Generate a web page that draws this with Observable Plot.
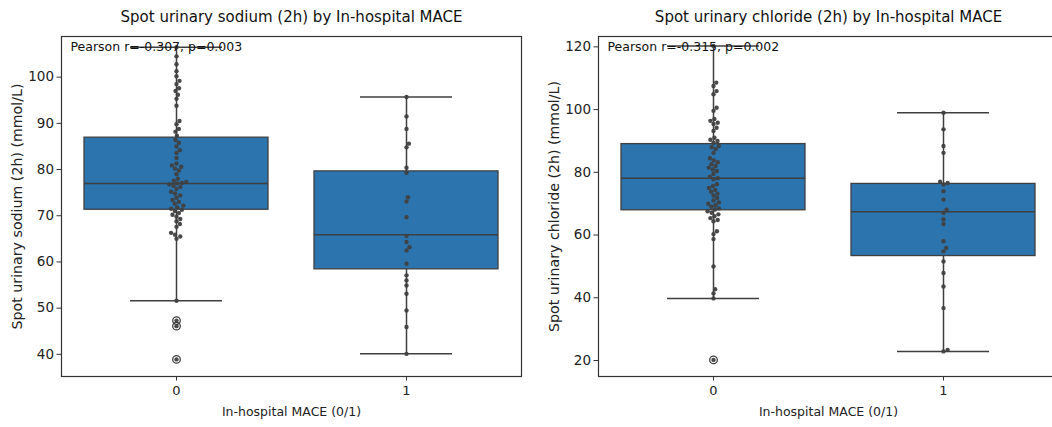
<!DOCTYPE html>
<html>
<head>
<meta charset="utf-8">
<script src="https://cdn.jsdelivr.net/npm/d3@7"></script>
<script src="https://cdn.jsdelivr.net/npm/@observablehq/plot@0.6"></script>
<style>
  html, body { margin: 0; padding: 0; background: #fff; overflow: hidden; }
  #wrap { position: relative; width: 1052px; height: 427px; overflow: hidden; }
  .panel { position: absolute; top: 0; width: 530px; }
  .panel svg { max-width: none !important; font-family: "DejaVu Sans", sans-serif; }
</style>
</head>
<body>
<div id="wrap">
  <div class="panel" id="left" style="left:0px"></div>
  <div class="panel" id="right" style="left:530px"></div>
</div>
<script>
// ---- categories ----
const categories = [0, 1];
const xTickLabels = ["0", "1"];

// ---- sodium (left panel) ----
const sodiumMace0 = [106.5, 104.5, 102.8, 101.3, 100.2, 99.2, 98.5, 97.6, 97.0, 96.2, 95.3, 93.8, 90.5, 89.8, 88.8, 88.2, 87.3,
  86.4, 85.8, 85.0, 84.2, 83.6, 82.5, 81.3, 80.9, 80.6, 80.2, 79.8, 79.0, 78.0, 77.6, 77.3, 77.1, 77.0, 76.8, 76.5, 76.2, 75.8,
  75.2, 74.8, 74.4, 73.9, 73.4, 73.0, 72.6, 72.2, 71.8, 71.5, 71.3,
  71.0, 70.6, 70.2, 69.8, 69.3, 68.8, 68.2, 67.6, 66.3, 65.9, 65.5, 65.0, 51.6, 47.3, 46.1, 38.9];
const sodiumMace1 = [95.7, 91.5, 88.8, 85.6, 84.8, 80.4, 79.3, 74.0, 73.1, 69.7, 65.6, 64.3, 63.2, 62.5, 59.6, 57.1, 56.0,
  54.9, 53.1, 49.5, 45.9, 40.1];
const sodiumQ1 = [71.3, 58.4];
const sodiumMedian = [77.0, 65.9];
const sodiumQ3 = [86.9, 79.6];
const sodiumWhiskerLow = [51.6, 40.1];
const sodiumWhiskerHigh = [106.5, 95.7];
const sodiumTicks = [40, 50, 60, 70, 80, 90, 100];

// ---- chloride (right panel) ----
const chlorideMace0 = [120.3, 108.6, 107.5, 105.9, 104.9, 100.6, 99.6, 97.0, 96.4, 95.8, 95.4, 94.2, 93.2, 91.0, 90.4, 90.0, 89.4,
  88.4, 88.0, 87.4, 86.2, 84.5, 83.8, 83.2, 82.6, 82.0, 81.5, 80.9, 80.4, 79.5, 78.6, 78.1, 77.8, 76.2, 75.6, 75.0, 74.4, 73.8,
  73.2, 72.6, 71.8, 71.0, 70.4, 70.0, 69.5, 69.0, 68.5, 68.1,
  67.6, 67.1, 66.6, 66.0, 65.4, 64.8, 64.4, 61.2, 60.3, 58.7, 50.0, 42.7, 41.4, 39.8, 20.2];
const chlorideMace1 = [99.0, 93.7, 88.4, 86.2, 77.0, 76.6, 76.1, 74.0, 71.3, 68.1, 67.1, 65.0, 63.5, 58.0, 55.9, 54.8, 51.6,
  47.9, 43.6, 36.7, 23.4, 22.9];
const chlorideQ1 = [67.9, 53.3];
const chlorideMedian = [78.1, 67.4];
const chlorideQ3 = [89.0, 76.3];
const chlorideWhiskerLow = [39.8, 22.9];
const chlorideWhiskerHigh = [120.3, 99.0];
const chlorideTicks = [20, 40, 60, 80, 100, 120];

// ---- texts ----
const titles = ["Spot urinary sodium (2h) by In-hospital MACE", "Spot urinary chloride (2h) by In-hospital MACE"];
const yLabels = ["Spot urinary sodium (2h) (mmol/L)", "Spot urinary chloride (2h) (mmol/L)"];
const xLabel = "In-hospital MACE (0/1)";
const pearsonTexts = ["Pearson r=-0.307, p=0.003", "Pearson r=-0.315, p=0.002"];

const BOX_FILL = "#2b74ae";
const LINE = "#3f3f3f";
const DOT = "#404040";

function swarm(values, cat, yPx, pxPerUnit, d) {
  const pts = values.map(v => ({v, y: yPx(v)})).sort((a, b) => a.v - b.v);
  const placed = [];
  for (const p of pts) {
    const near = placed.filter(q => Math.abs(q.y - p.y) < d);
    const cands = [0];
    for (const q of near) {
      const dx = Math.sqrt(d * d - (q.y - p.y) ** 2);
      cands.push(q.ox + dx, q.ox - dx);
    }
    cands.sort((a, b) => Math.abs(a) - Math.abs(b));
    p.ox = 0;
    for (const c of cands) {
      if (near.every(q => (q.ox - c) ** 2 + (q.y - p.y) ** 2 >= d * d - 1e-6)) { p.ox = c; break; }
    }
    placed.push(p);
  }
  return placed.map(p => ({x: cat + p.ox / pxPerUnit, y: p.v}));
}

function panel(opts) {
  const {groups, q1, med, q3, lo, hi, yDomain, yTicks, title, yLabel, pearson, marginLeft, marginRight} = opts;
  const width = 530, height = 427, marginTop = 36, marginBottom = 51;
  const frameW = width - marginLeft - marginRight;
  const pxPerUnit = frameW / 2;
  const yPx = d3.scaleLinear().domain(yDomain).range([height - marginBottom, marginTop]);
  const boxes = categories.map((c, i) => ({c, q1: q1[i], med: med[i], q3: q3[i], lo: lo[i], hi: hi[i]}));
  const dots = categories.flatMap((c, i) => swarm(groups[i], c, yPx, pxPerUnit, 4.4));
  const outliers = categories.flatMap((c, i) => groups[i].filter(v => v < lo[i] || v > hi[i]).map(v => ({c, v})));
  return Plot.plot({
    width, height, marginTop, marginBottom, marginLeft, marginRight,
    style: {fontFamily: "DejaVu Sans, sans-serif", fontSize: "13px", color: "#222", background: "white", maxWidth: "none"},
    x: {domain: [-0.5, 1.5], axis: null},
    y: {domain: yDomain, axis: null},
    marks: [
      // whiskers
      Plot.ruleX(boxes, {x: "c", y1: "q3", y2: "hi", stroke: LINE, strokeWidth: 1.5}),
      Plot.ruleX(boxes, {x: "c", y1: "lo", y2: "q1", stroke: LINE, strokeWidth: 1.5}),
      Plot.ruleY(boxes, {y: "hi", x1: d => d.c - 0.2, x2: d => d.c + 0.2, stroke: LINE, strokeWidth: 1.5}),
      Plot.ruleY(boxes, {y: "lo", x1: d => d.c - 0.2, x2: d => d.c + 0.2, stroke: LINE, strokeWidth: 1.5}),
      // boxes
      Plot.rect(boxes, {x1: d => d.c - 0.4, x2: d => d.c + 0.4, y1: "q1", y2: "q3", fill: BOX_FILL, stroke: LINE, strokeWidth: 1.3}),
      Plot.ruleY(boxes, {y: "med", x1: d => d.c - 0.4, x2: d => d.c + 0.4, stroke: LINE, strokeWidth: 1.5}),
      // outlier rings
      Plot.dot(outliers, {x: "c", y: "v", r: 3.8, stroke: LINE, strokeWidth: 1.3, fill: "none"}),
      // swarm
      Plot.dot(dots, {x: "x", y: "y", r: 2.2, fill: DOT, fillOpacity: 0.95, stroke: "none"}),
      // frame
      Plot.frame({stroke: "#333", strokeWidth: 1.2}),
      // axes
      Plot.axisY(yTicks, {tickSize: 4.5, tickPadding: 3, fontSize: 13.5, label: null, stroke: "#333"}),
      Plot.axisX(categories, {tickSize: 4.5, tickPadding: 5, fontSize: 13, label: null, tickFormat: (d, i) => xTickLabels[i], stroke: "#333"}),
      // texts
      Plot.text([title], {frameAnchor: "top", dy: -19, lineAnchor: "middle", fontSize: 15, fill: "#111"}),
      Plot.text([yLabel], {frameAnchor: "left", dx: -44, rotate: -90, textAnchor: "middle", lineAnchor: "middle", fontSize: 14.2, fill: "#222"}),
      Plot.text([xLabel], {frameAnchor: "bottom", dy: 35, lineAnchor: "middle", fontSize: 12.5, fill: "#222"}),
      Plot.text([pearson], {frameAnchor: "top-left", dx: 9, dy: 10, lineAnchor: "middle", textAnchor: "start", fontSize: 12.5, fill: "#111"})
    ]
  });
}

document.getElementById("left").append(panel({
  groups: [sodiumMace0, sodiumMace1],
  q1: sodiumQ1, med: sodiumMedian, q3: sodiumQ3, lo: sodiumWhiskerLow, hi: sodiumWhiskerHigh,
  yDomain: [35.2, 108.8], yTicks: sodiumTicks,
  title: titles[0], yLabel: yLabels[0], pearson: pearsonTexts[0],
  marginLeft: 61, marginRight: 9
}));

document.getElementById("right").append(panel({
  groups: [chlorideMace0, chlorideMace1],
  q1: chlorideQ1, med: chlorideMedian, q3: chlorideQ3, lo: chlorideWhiskerLow, hi: chlorideWhiskerHigh,
  yDomain: [14.9, 123.3], yTicks: chlorideTicks,
  title: titles[1], yLabel: yLabels[1], pearson: pearsonTexts[1],
  marginLeft: 68, marginRight: 2
}));
</script>
</body>
</html>
